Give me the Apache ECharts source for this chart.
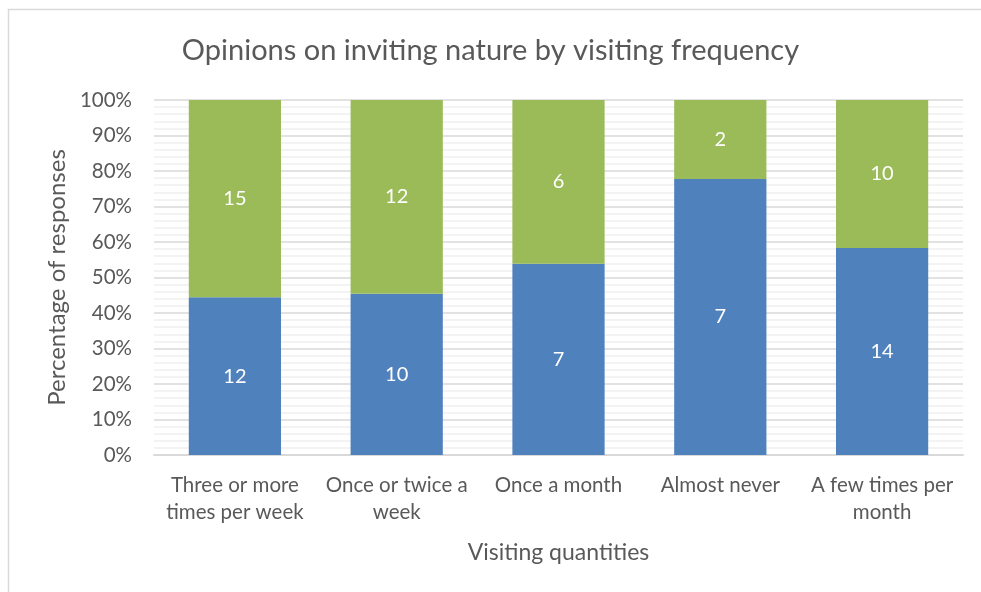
<!DOCTYPE html>
<html>
<head>
<meta charset="utf-8">
<script src="https://cdn.jsdelivr.net/npm/echarts@6/dist/echarts.min.js"></script>
<style>html,body{margin:0;padding:0;background:#fff}#c{width:981px;height:592px}</style>
</head>
<body>
<div id="c"></div>
<script>
const categories = ['Three or more\ntimes per week', 'Once or twice a\nweek', 'Once a month', 'Almost never', 'A few times per\nmonth'];
const blueCounts = [12, 10, 7, 7, 14];
const greenCounts = [15, 12, 6, 2, 10];
const yTicks = ['0%','10%','20%','30%','40%','50%','60%','70%','80%','90%','100%'];

const totals = blueCounts.map((b, i) => b + greenCounts[i]);
const bluePct = blueCounts.map((b, i) => ({ value: b / totals[i] * 100, count: b }));
const greenPct = greenCounts.map((g, i) => ({ value: g / totals[i] * 100, count: g }));

const font = 'Lato, "Open Sans", sans-serif';
const chart = echarts.init(document.getElementById('c'));
chart.setOption({
  animation: false,
  title: {
    text: 'Opinions on inviting nature by visiting frequency',
    left: 'center', top: 31,
    textStyle: { fontFamily: font, fontSize: 29, fontWeight: 'normal', color: '#595959' }
  },
  graphic: [{
    type: 'polyline', silent: true,
    shape: { points: [[8.5, 592], [8.5, 9.5], [981, 9.5]] },
    style: { stroke: '#d9d9d9', lineWidth: 1.5, fill: null }
  }],
  grid: { left: 154, right: 18, top: 100, bottom: 137 },
  xAxis: {
    type: 'category', data: categories,
    name: 'Visiting quantities', nameLocation: 'middle', nameGap: 86,
    nameTextStyle: { fontFamily: font, fontSize: 23, color: '#595959' },
    axisLine: { lineStyle: { color: '#d9d9d9', width: 2 } },
    axisTick: { show: false },
    axisLabel: { interval: 0, fontFamily: font, fontSize: 20.5, color: '#595959', lineHeight: 27, margin: 17 }
  },
  yAxis: {
    type: 'value', min: 0, max: 100, interval: 10,
    name: 'Percentage of responses', nameLocation: 'middle', nameGap: 82,
    nameTextStyle: { fontFamily: font, fontSize: 24, color: '#595959' },
    axisLine: { show: false }, axisTick: { show: false },
    axisLabel: { formatter: v => yTicks[Math.round(v / 10)], fontFamily: font, fontSize: 20.5, color: '#595959', margin: 22 },
    splitLine: { lineStyle: { color: '#d9d9d9', width: 1.5 } },
    minorTick: { show: false, splitNumber: 5 },
    minorSplitLine: { show: true, lineStyle: { color: '#f0f0f0', width: 1.5 } }
  },
  series: [
    {
      type: 'bar', stack: 's', data: bluePct, barWidth: '57%',
      itemStyle: { color: '#4f81bd' },
      label: { show: true, position: 'inside', formatter: p => p.data.count, color: '#fff', fontFamily: font, fontSize: 20 }
    },
    {
      type: 'bar', stack: 's', data: greenPct, barWidth: '57%',
      itemStyle: { color: '#9bbb59' },
      label: { show: true, position: 'inside', formatter: p => p.data.count, color: '#fff', fontFamily: font, fontSize: 20 }
    }
  ]
});
</script>
</body>
</html>
